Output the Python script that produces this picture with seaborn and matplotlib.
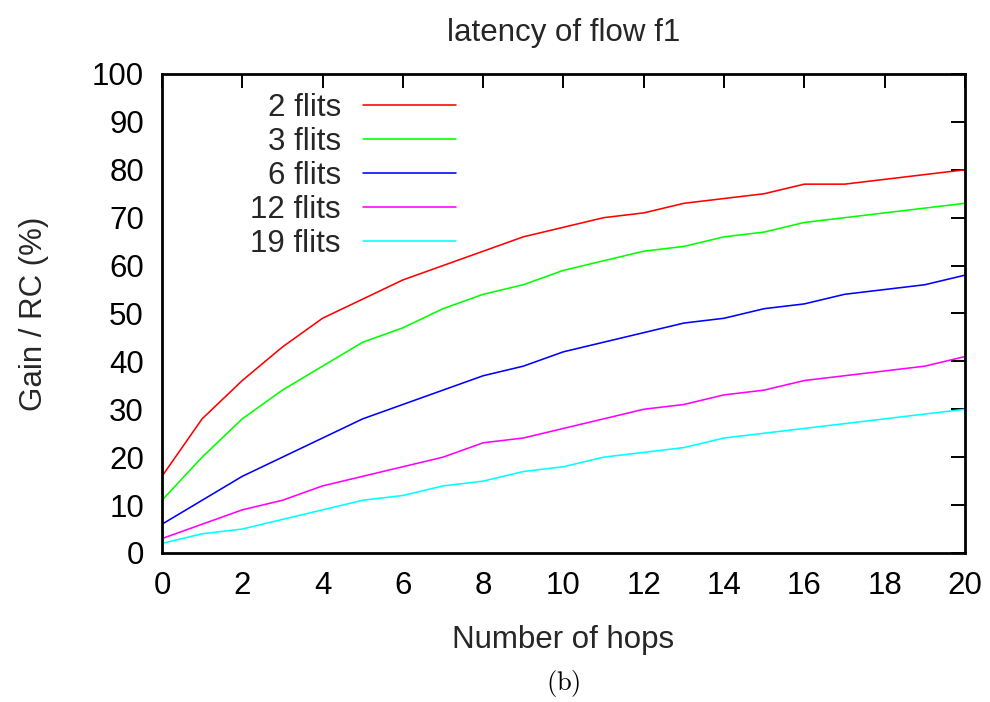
import numpy as np
import pandas as pd
import matplotlib
matplotlib.use("Agg")
import matplotlib.pyplot as plt
import seaborn as sns

# Hop counts and gain series (one per packet size)
hops = list(range(0, 21))
gain_2 = [16, 28, 36, 43, 49, 53, 57, 60, 63, 66, 68, 70, 71, 73, 74, 75, 77, 77, 78, 79, 80]
gain_3 = [11, 20, 28, 34, 39, 44, 47, 51, 54, 56, 59, 61, 63, 64, 66, 67, 69, 70, 71, 72, 73]
gain_6 = [6, 11, 16, 20, 24, 28, 31, 34, 37, 39, 42, 44, 46, 48, 49, 51, 52, 54, 55, 56, 58]
gain_12 = [3, 6, 9, 11, 14, 16, 18, 20, 23, 24, 26, 28, 30, 31, 33, 34, 36, 37, 38, 39, 41]
gain_19 = [2, 4, 5, 7, 9, 11, 12, 14, 15, 17, 18, 20, 21, 22, 24, 25, 26, 27, 28, 29, 30]

series_labels = ["2 flits", "3 flits", "6 flits", "12 flits", "19 flits"]
series_values = [gain_2, gain_3, gain_6, gain_12, gain_19]
series_colors = ["#ff0000", "#00ff00", "#0000ff", "#ff00ff", "#00ffff"]

x_ticks = list(range(0, 21, 2))
y_ticks = list(range(0, 101, 10))

df = pd.DataFrame({
    "hops": hops * len(series_labels),
    "gain": sum(series_values, []),
    "size": sum([[lab] * len(hops) for lab in series_labels], []),
})

sns.set_theme(style="white")
plt.rcParams["font.family"] = ["Liberation Sans", "DejaVu Sans"]
plt.rcParams["mathtext.fontset"] = "cm"

fig = plt.figure(figsize=(9.9, 7.02), dpi=100)
ax = fig.add_axes([0.1636, 0.2123, 0.9747 - 0.1636, 0.8946 - 0.2123])

sns.lineplot(data=df, x="hops", y="gain", hue="size", hue_order=series_labels,
             palette=series_colors, linewidth=1.15, ax=ax)

ax.set_xlim(0, 20)
ax.set_ylim(0, 100)
ax.set_xticks(x_ticks)
ax.set_yticks(y_ticks)

fs = 22.5
ax.tick_params(axis="both", which="major", direction="in", length=10, width=1.4,
               labelsize=fs, top=True, right=True, pad=13, colors="black")
for sp in ax.spines.values():
    sp.set_linewidth(2)
    sp.set_color("black")

ax.set_xlabel("Number of hops", fontsize=fs, labelpad=17)
ax.set_ylabel("Gain / RC (%)", fontsize=fs, labelpad=31)
ax.set_title("latency of flow f1", fontsize=fs, pad=24)

leg = ax.legend(loc="upper right", bbox_to_anchor=(0.394, 1.006), frameon=False,
                markerfirst=False, fontsize=fs, handlelength=3.0, handletextpad=0.7,
                labelspacing=0.13, borderpad=0.2)
for line in leg.get_lines():
    line.set_linewidth(1.15)

fig.text(0.5685, 0.027, r"$\mathrm{(b)}$", ha="center", va="center", fontsize=19,
         color="black")

fig.savefig("out.png", dpi=100)
